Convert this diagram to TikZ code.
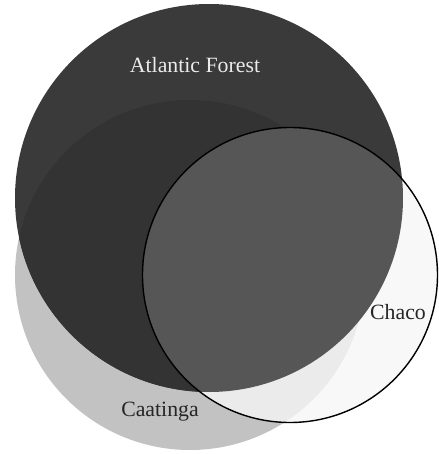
\documentclass[tikz,border=0pt]{standalone}
\usepackage{fontspec}
\setmainfont{Liberation Serif}
\usepackage{tikz}
\definecolor{atlgray}{HTML}{3A3A3A}
\definecolor{atlcaagray}{HTML}{333333}
\definecolor{caagray}{HTML}{C2C2C2}
\definecolor{chacogray}{HTML}{F8F8F8}
\definecolor{chacaagray}{HTML}{EBEBEB}
\definecolor{chatlgray}{HTML}{565656}
\def\atlantic{(4.18, 5.12) circle (3.88)}
\def\caatinga{(3.80, 3.58) circle (3.50)}
\def\chaco{(5.80, 3.58) circle (2.95)}
\tikzset{setname/.style={font=\fontsize{12.4}{14}\selectfont, inner sep=1pt}}

\begin{document}
\begin{tikzpicture}
			%%%%% START %%%%%
			\useasboundingbox (0, 0) rectangle (8.78, 9.08);
			
			\fill[caagray] \caatinga;
			\fill[atlgray] \atlantic;
			\begin{scope}
				\clip \atlantic;
				\fill[atlcaagray] \caatinga;
			\end{scope}
			
			\fill[chacogray] \chaco;
			\begin{scope}
				\clip \chaco;
				\fill[chacaagray] \caatinga;
				\fill[chatlgray] \atlantic;
			\end{scope}
			\draw[line width=0.8pt, color=black] \chaco;
			
			\node[setname, text=white!92!black] (atl) at (3.90, 7.78) {Atlantic Forest};
			\node[setname, text=black!85] (cha) at (7.96, 2.84) {Chaco};
			\node[setname, text=black!85] (caa) at (3.20, 0.84) {Caatinga};
			%%%%% END %%%%%
\end{tikzpicture}
\end{document}
